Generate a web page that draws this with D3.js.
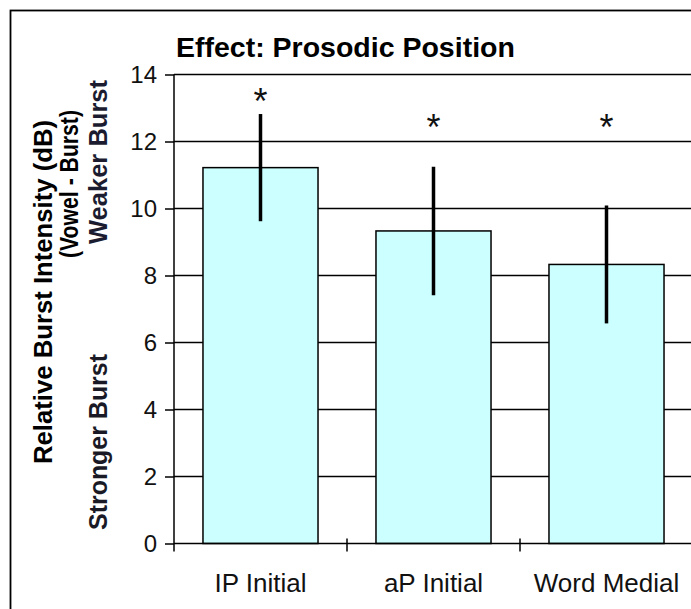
<!DOCTYPE html>
<html>
<head>
<meta charset="utf-8">
<script src="https://cdn.jsdelivr.net/npm/d3@7"></script>
<style>
  html, body { margin: 0; padding: 0; background: #fff; }
  svg { display: block; }
  text { font-family: "Liberation Sans", Arial, sans-serif; }
</style>
</head>
<body>
<script>
// Relative burst intensity by prosodic position
const categories = ["IP Initial", "aP Initial", "Word Medial"];
const meanValues = [11.22, 9.33, 8.33];
const errorValues = [1.6, 1.92, 1.76];
const sigMarks = ["*", "*", "*"];
const sigLevels = [13.4, 12.6, 12.6];
const yTickValues = [0, 2, 4, 6, 8, 10, 12, 14];

const W = 691, H = 609;
const plot = { left: 174, right: 693, top: 74.5, bottom: 543.5 };

const svg = d3.select("body").append("svg")
  .attr("width", W).attr("height", H);

// outer frame (continues past the right and bottom edges)
svg.append("rect")
  .attr("x", 10.5).attr("y", 10.5)
  .attr("width", W + 20).attr("height", H + 20)
  .attr("fill", "#fff").attr("stroke", "#000").attr("stroke-width", 1.8);

const y = d3.scaleLinear().domain([0, 14]).range([plot.bottom, plot.top]);
const x = d3.scaleBand().domain(categories)
  .range([plot.left, plot.right])
  .paddingInner(0.335).paddingOuter(0.1675);

// horizontal gridlines
svg.append("g").selectAll("line")
  .data(yTickValues.filter(v => v > 0))
  .join("line")
  .attr("x1", plot.left).attr("x2", plot.right)
  .attr("y1", d => y(d)).attr("y2", d => y(d))
  .attr("stroke", "#000").attr("stroke-width", 1.3);

// bars
svg.append("g").selectAll("rect")
  .data(categories)
  .join("rect")
  .attr("x", d => x(d))
  .attr("y", (d, i) => y(meanValues[i]))
  .attr("width", x.bandwidth())
  .attr("height", (d, i) => y(0) - y(meanValues[i]))
  .attr("fill", "#ccffff")
  .attr("stroke", "#000").attr("stroke-width", 1.5);

// error bars
svg.append("g").selectAll("line")
  .data(categories)
  .join("line")
  .attr("x1", d => x(d) + x.bandwidth() / 2)
  .attr("x2", d => x(d) + x.bandwidth() / 2)
  .attr("y1", (d, i) => y(meanValues[i] + errorValues[i]))
  .attr("y2", (d, i) => y(meanValues[i] - errorValues[i]))
  .attr("stroke", "#000").attr("stroke-width", 3.5);

// significance markers
svg.append("g").selectAll("text")
  .data(categories)
  .join("text")
  .attr("x", d => x(d) + x.bandwidth() / 2)
  .attr("y", (d, i) => y(sigLevels[i]) + 19)
  .attr("text-anchor", "middle")
  .attr("font-size", 36)
  .attr("fill", "#111")
  .text((d, i) => sigMarks[i]);

// y axis
const yAxis = svg.append("g")
  .attr("transform", `translate(${plot.left},0)`)
  .call(d3.axisLeft(y).tickValues(yTickValues).tickSize(9).tickSizeOuter(0).tickPadding(8));
yAxis.select(".domain").remove();
yAxis.selectAll(".tick line").attr("stroke", "#000").attr("stroke-width", 1.5);
yAxis.selectAll(".tick text")
  .attr("font-size", 24).attr("fill", "#111")
  .attr("font-family", "Liberation Sans, Arial, sans-serif");
svg.append("line")
  .attr("x1", plot.left).attr("x2", plot.left)
  .attr("y1", plot.top).attr("y2", plot.bottom + 8)
  .attr("stroke", "#000").attr("stroke-width", 1.5);

// x axis line, category labels and boundary ticks
const xAxis = svg.append("g")
  .attr("transform", `translate(0,${plot.bottom})`)
  .call(d3.axisBottom(x).tickSize(0).tickPadding(30));
xAxis.select(".domain").remove();
xAxis.selectAll(".tick text")
  .attr("font-size", 26).attr("fill", "#111")
  .attr("font-family", "Liberation Sans, Arial, sans-serif");
svg.append("line")
  .attr("x1", plot.left).attr("x2", plot.right)
  .attr("y1", plot.bottom).attr("y2", plot.bottom)
  .attr("stroke", "#000").attr("stroke-width", 1.5);
const boundaries = d3.range(categories.length + 1).map(i => plot.left + i * x.step());
svg.append("g").selectAll("line")
  .data(boundaries.slice(1))
  .join("line")
  .attr("x1", d => d).attr("x2", d => d)
  .attr("y1", plot.bottom - 5).attr("y2", plot.bottom + 8)
  .attr("stroke", "#000").attr("stroke-width", 1.5);

// chart title
svg.append("text")
  .attr("x", 176).attr("y", 57)
  .attr("font-size", 28.5).attr("font-weight", "bold").attr("fill", "#000")
  .text("Effect: Prosodic Position");

// y axis titles
const yTitles = [
  { text: "Relative Burst Intensity (dB)", cx: 52, cy: 292, len: 344, color: "#000" },
  { text: "(Vowel - Burst)", cx: 78, cy: 184, len: 148, color: "#000" },
  { text: "Weaker Burst", cx: 107, cy: 162, len: 164, color: "#1c1c30" },
  { text: "Stronger Burst", cx: 107, cy: 442, len: 176, color: "#1a1a26" }
];
svg.append("g").selectAll("text")
  .data(yTitles)
  .join("text")
  .attr("transform", d => `translate(${d.cx},${d.cy}) rotate(-90)`)
  .attr("text-anchor", "middle")
  .attr("font-size", 25).attr("font-weight", "bold")
  .attr("textLength", d => d.len).attr("lengthAdjust", "spacingAndGlyphs")
  .attr("fill", d => d.color)
  .text(d => d.text);
</script>
</body>
</html>
